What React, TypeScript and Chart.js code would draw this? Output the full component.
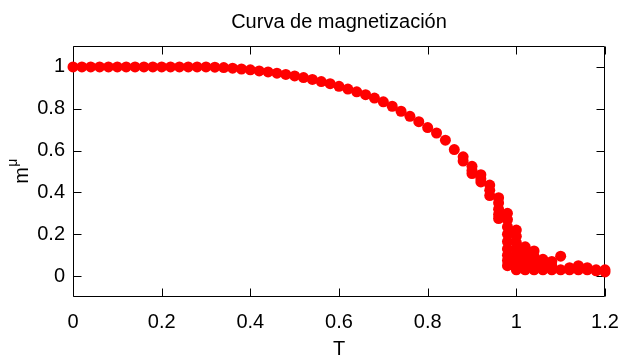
import React, { useEffect, useRef } from 'react';
import { Chart, registerables } from 'chart.js';

Chart.register(...registerables);

const chartTitle = 'Curva de magnetización';
const xAxisTitle = 'T';
const yAxisBase = 'm';
const yAxisSup = 'μ';

const temperatures = [
  0, 0.02, 0.04, 0.06, 0.08, 0.1, 0.12, 0.14, 0.16, 0.18,
  0.2, 0.22, 0.24, 0.26, 0.28, 0.3, 0.32, 0.34, 0.36, 0.38,
  0.4, 0.42, 0.44, 0.46, 0.48, 0.5, 0.52, 0.54, 0.56, 0.58,
  0.6, 0.62, 0.64, 0.66, 0.68, 0.7, 0.72, 0.74, 0.76, 0.78,
  0.8, 0.82, 0.84, 0.86, 0.88, 0.9, 0.92, 0.94, 0.96, 0.98,
  1.0, 1.02, 1.04, 1.06, 1.08, 1.1, 1.12, 1.14, 1.16, 1.18,
  1.2,
];

const magnetization = [
  1, 1, 1, 1, 1, 1, 1, 1, 1, 1,
  1, 1, 1, 1, 1, 1, 0.999, 0.997, 0.994, 0.99,
  0.986, 0.981, 0.976, 0.97, 0.964, 0.957, 0.949, 0.94, 0.93, 0.92,
  0.907, 0.894, 0.881, 0.867, 0.851, 0.833, 0.812, 0.788, 0.764, 0.738,
  0.71, 0.684, 0.65, 0.605, 0.57, 0.525, 0.485, 0.435, 0.375, 0.3,
  0.22, 0.14, 0.12, 0.08, 0.07, 0.095, 0.04, 0.05, 0.04, 0.03,
  0.03,
];

const spreadTemperatures = [
  0.88,
  0.9, 0.9,
  0.92, 0.92,
  0.94, 0.94,
  0.96, 0.96, 0.96, 0.96,
  0.98, 0.98, 0.98, 0.98, 0.98, 0.98, 0.98, 0.98,
  1.0, 1.0, 1.0, 1.0, 1.0, 1.0, 1.0,
  1.02, 1.02, 1.02, 1.02, 1.02,
  1.04, 1.04, 1.04, 1.04,
  1.06, 1.06, 1.06,
  1.08, 1.08,
  1.1, 1.12, 1.14, 1.16, 1.18, 1.2,
];

const spreadMagnetization = [
  0.55,
  0.505, 0.49,
  0.465, 0.45,
  0.41, 0.385,
  0.35, 0.32, 0.295, 0.275,
  0.27, 0.235, 0.2, 0.165, 0.13, 0.1, 0.075, 0.05,
  0.19, 0.16, 0.13, 0.1, 0.07, 0.045, 0.03,
  0.115, 0.09, 0.065, 0.045, 0.03,
  0.095, 0.07, 0.05, 0.03,
  0.06, 0.04, 0.03,
  0.05, 0.03,
  0.03, 0.03, 0.03, 0.03, 0.025, 0.02,
];

const xTickValues = [0, 0.2, 0.4, 0.6, 0.8, 1, 1.2];
const xTickLabels = ['0', '0.2', '0.4', '0.6', '0.8', '1', '1.2'];
const yTickValues = [0, 0.2, 0.4, 0.6, 0.8, 1];
const yTickLabels = ['0', '0.2', '0.4', '0.6', '0.8', '1'];

const FONT = '"Liberation Sans", Arial, Helvetica, sans-serif';
const FONT_SIZE = 20;
const SUP_SIZE = 14;
const RED = '#ff0000';

const framePlugin = {
  id: 'gnuplotFrame',
  beforeDatasetsDraw(chart: any) {
    const { ctx, chartArea: a, scales } = chart;
    const L = Math.round(a.left) + 0.5;
    const R = Math.round(a.right) - 0.5;
    const T = Math.round(a.top) + 0.5;
    const B = Math.round(a.bottom) - 0.5;
    const len = 8;
    ctx.save();
    ctx.strokeStyle = '#000';
    ctx.lineWidth = 1;
    ctx.beginPath();
    ctx.rect(L, T, R - L, B - T);
    xTickValues.forEach((v) => {
      const x = Math.round(scales.x.getPixelForValue(v)) + 0.5;
      ctx.moveTo(x, B);
      ctx.lineTo(x, B - len);
      ctx.moveTo(x, T);
      ctx.lineTo(x, T + len);
    });
    yTickValues.forEach((v) => {
      const y = Math.round(scales.y.getPixelForValue(v)) + 0.5;
      ctx.moveTo(L, y);
      ctx.lineTo(L + len, y);
      ctx.moveTo(R, y);
      ctx.lineTo(R - len, y);
    });
    ctx.stroke();

    ctx.fillStyle = '#000';
    // chart title, centred over the plot area
    ctx.font = `${FONT_SIZE}px ${FONT}`;
    ctx.textAlign = 'center';
    ctx.textBaseline = 'alphabetic';
    ctx.fillText(chartTitle, (a.left + a.right) / 2, 28);

    // y axis title with superscript
    ctx.translate(19, (a.top + a.bottom) / 2);
    ctx.rotate(-Math.PI / 2);
    ctx.textAlign = 'left';
    ctx.font = `${FONT_SIZE}px ${FONT}`;
    const wBase = ctx.measureText(yAxisBase).width;
    ctx.font = `${SUP_SIZE}px ${FONT}`;
    const wSup = ctx.measureText(yAxisSup).width;
    const start = -(wBase + wSup) / 2;
    ctx.font = `${FONT_SIZE}px ${FONT}`;
    ctx.fillText(yAxisBase, start, 9);
    ctx.font = `${SUP_SIZE}px ${FONT}`;
    ctx.fillText(yAxisSup, start + wBase + 0.5, -2.5);
    ctx.restore();
  },
};

export default function App() {
  const canvasRef = useRef<HTMLCanvasElement | null>(null);

  useEffect(() => {
    if (!canvasRef.current) return;
    const mainPoints = temperatures.map((t, i) => ({ x: t, y: magnetization[i] }));
    const spreadPoints = spreadTemperatures.map((t, i) => ({ x: t, y: spreadMagnetization[i] }));
    const pointStyle = {
      showLine: false,
      pointRadius: 5.5,
      pointHoverRadius: 5.5,
      pointBackgroundColor: RED,
      pointBorderColor: RED,
      pointBorderWidth: 0,
      backgroundColor: RED,
      borderColor: RED,
      clip: false as any,
    };
    const chart = new Chart(canvasRef.current, {
      type: 'scatter',
      data: {
        datasets: [
          { label: 'm', data: mainPoints, ...pointStyle },
          { label: 'm (runs)', data: spreadPoints, ...pointStyle },
        ],
      },
      options: {
        responsive: false,
        animation: false,
        devicePixelRatio: 1,
        layout: { padding: { left: 0, right: 18, top: 46, bottom: 0 } },
        plugins: {
          legend: { display: false },
          tooltip: { enabled: false },
          title: { display: false },
        },
        scales: {
          x: {
            type: 'linear',
            min: 0,
            max: 1.2,
            afterBuildTicks: (s: any) => {
              s.ticks = xTickValues.map((v) => ({ value: v }));
            },
            afterFit: (s: any) => {
              s.height = 59;
              s.paddingLeft = 0;
              s.paddingRight = 0;
            },
            grid: { display: false, drawTicks: false },
            border: { display: false },
            ticks: {
              autoSkip: false,
              maxRotation: 0,
              color: '#000',
              padding: 13,
              font: { family: FONT, size: FONT_SIZE },
              callback: (_v: any, i: number) => xTickLabels[i],
            },
            title: {
              display: true,
              text: xAxisTitle,
              color: '#000',
              font: { family: FONT, size: FONT_SIZE },
              padding: { top: 0, bottom: -5 },
            },
          },
          y: {
            type: 'linear',
            min: -0.1,
            max: 1.1,
            afterBuildTicks: (s: any) => {
              s.ticks = yTickValues.map((v) => ({ value: v }));
            },
            afterFit: (s: any) => {
              s.width = 73;
              s.paddingTop = 0;
              s.paddingBottom = 0;
            },
            grid: { display: false, drawTicks: false },
            border: { display: false },
            ticks: {
              autoSkip: false,
              color: '#000',
              padding: 8,
              font: { family: FONT, size: FONT_SIZE },
              callback: (_v: any, i: number) => yTickLabels[i],
            },
          },
        },
      },
      plugins: [framePlugin],
    });
    return () => chart.destroy();
  }, []);

  return (
    <div style={{ position: 'fixed', left: 0, top: 0, width: 623, height: 356, background: '#fff' }}>
      <canvas ref={canvasRef} width={623} height={356} style={{ width: 623, height: 356, display: 'block' }} />
    </div>
  );
}
